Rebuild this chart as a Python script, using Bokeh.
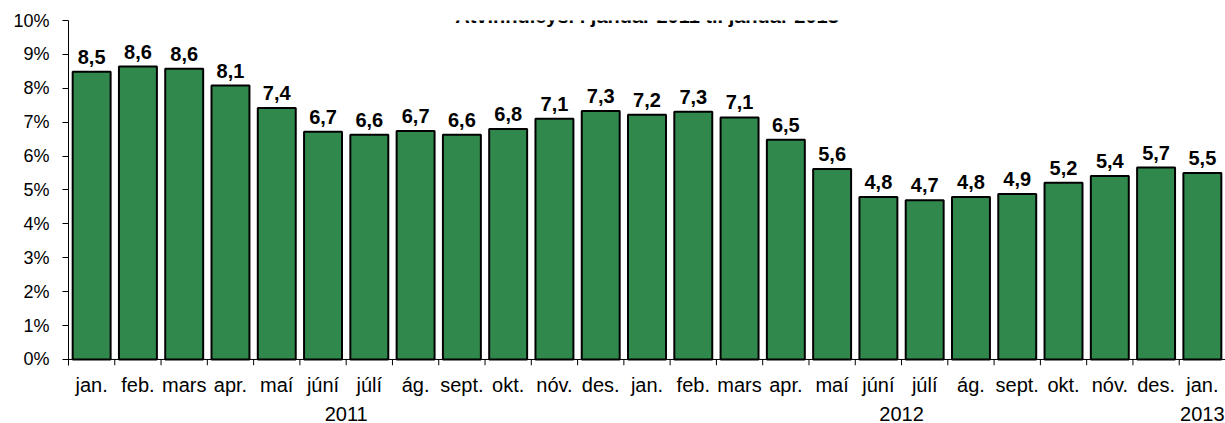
from bokeh.plotting import figure
from bokeh.models import (FactorRange, Range1d, FixedTicker, PrintfTickFormatter, Label,
                          ColumnDataSource, Span)
from bokeh.core.properties import value
from bokeh.embed import file_html
from bokeh.resources import INLINE

months = ["jan.", "feb.", "mars", "apr.", "maí", "júní", "júlí", "ág.", "sept.", "okt.", "nóv.", "des."]
month_labels = months + months + ["jan."]
year_labels = ["2011"] * 12 + ["2012"] * 12 + ["2013"]
values = [8.49, 8.64, 8.58, 8.08, 7.42, 6.72, 6.63, 6.74, 6.63, 6.80, 7.10, 7.33,
          7.22, 7.31, 7.14, 6.48, 5.62, 4.79, 4.70, 4.79, 4.88, 5.21, 5.41, 5.66, 5.50]
y_ticks = list(range(0, 11))
title_text = "Atvinnuleysi í janúar 2011 til janúar 2013"

FONT = "Liberation Sans"
factors = list(zip(year_labels, month_labels))
labels = [f"{v:.1f}".replace(".", ",") for v in values]
src = ColumnDataSource(dict(x=factors, top=values, label=labels))

TICK = 0.178  # x-axis tick length below zero, in data units (~6px)

p = figure(x_range=FactorRange(*factors, range_padding=0, factor_padding=0,
                               group_padding=0, subgroup_padding=0),
           y_range=Range1d(-TICK, 10),
           width=1225, height=423, output_backend="svg", toolbar_location=None,
           x_axis_location="below", y_axis_location="left",
           min_border_left=68, min_border_right=0, min_border_top=20, min_border_bottom=0)
p.outline_line_color = None
p.grid.visible = False
p.background_fill_color = "white"
p.border_fill_color = "white"

p.vbar(x="x", top="top", width=0.82, source=src, fill_color="#31884D",
       line_color="black", line_width=2)
p.text(x="x", y="top", text="label", source=src, text_font=value(FONT),
       text_font_style="bold", text_font_size="20px", text_align="center",
       text_baseline="alphabetic", y_offset=-15, text_color="black")

# category boundary ticks on the x axis
bounds = list(range(len(values) + 1))
p.segment(x0=bounds, y0=[0] * len(bounds), x1=bounds, y1=[-TICK] * len(bounds),
          line_color="black", line_width=1)
p.add_layout(Span(location=0, dimension="width", line_color="black", line_width=1))

# y axis
ya = p.yaxis[0]
ya.ticker = FixedTicker(ticks=y_ticks)
ya.formatter = PrintfTickFormatter(format="%d%%")
ya.major_label_text_font = FONT
ya.major_label_text_font_size = "18px"
ya.major_label_text_color = "black"
ya.major_tick_out = 6
ya.major_tick_in = 0
ya.minor_tick_line_color = None
ya.axis_line_color = "black"
ya.major_tick_line_color = "black"
ya.major_label_standoff = 13

ca = p.xaxis[0]
ca.axis_line_color = None
ca.major_tick_line_color = None
ca.major_tick_out = 0
ca.major_tick_in = 0
ca.minor_tick_line_color = None
ca.major_label_text_font = FONT
ca.major_label_text_font_size = "20px"
ca.major_label_text_color = "black"
ca.major_label_standoff = 8
ca.group_text_font = FONT
ca.group_text_font_size = "20px"
ca.group_text_color = "black"
ca.group_text_font_style = "normal"
ca.separator_line_color = None

p.add_layout(Label(x=12.5, y=10.135, text=title_text, text_font=FONT,
                   text_font_style="bold", text_font_size="20px", text_align="center",
                   text_baseline="alphabetic", text_color="black"))

open("out.html", "w").write(file_html(p, INLINE))
